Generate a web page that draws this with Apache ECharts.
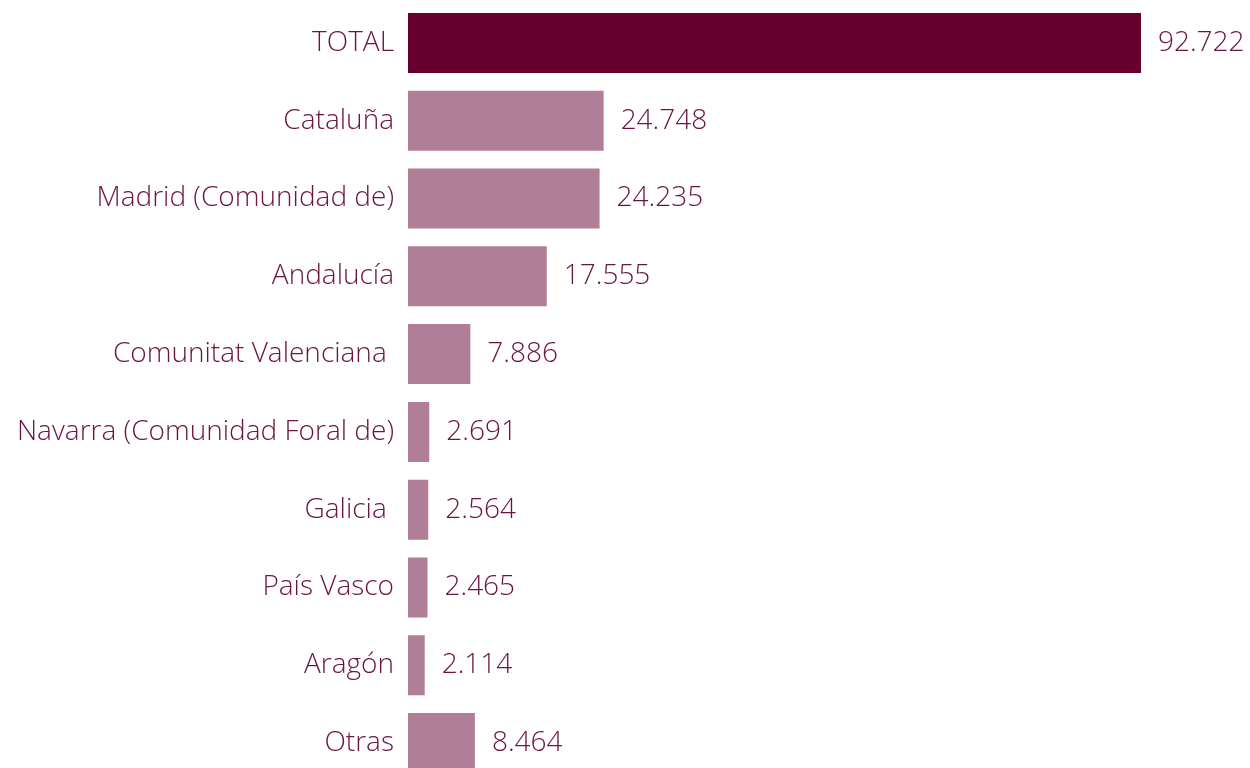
<!DOCTYPE html>
<html>
<head>
<meta charset="utf-8">
<script src="https://cdn.jsdelivr.net/npm/echarts@6/dist/echarts.min.js"></script>
<style>
  html, body { margin: 0; padding: 0; background: #fff; overflow: hidden; }
  #chart { width: 1250px; height: 800px; }
</style>
</head>
<body>
<div id="chart"></div>
<script>
// categorias (las dos con espacio final van algo desplazadas en el original)
var categorias = ["TOTAL", "Cataluña", "Madrid (Comunidad de)", "Andalucía", "Comunitat Valenciana ",
  "Navarra (Comunidad Foral de)", "Galicia ", "País Vasco", "Aragón", "Otras"];
var valores = [92722, 24748, 24235, 17555, 7886, 2691, 2564, 2465, 2114, 8464];

var colorTotal = "#66002f";
var colorResto = "#b07f97";
var colorTexto = "#6b1442";

function formato(v) {
  return String(v).replace(/\B(?=(\d{3})+(?!\d))/g, ".");
}

var myChart = echarts.init(document.getElementById("chart"));
myChart.setOption({
  animation: false,
  grid: { left: 408, top: 4, width: 790.5, height: 778 },
  xAxis: {
    type: "value",
    min: 0,
    max: 100000,
    show: false
  },
  yAxis: {
    type: "category",
    data: categorias,
    inverse: true,
    axisLine: { show: false },
    axisTick: { show: false },
    axisLabel: {
      margin: 14,
      color: colorTexto,
      fontFamily: "Open Sans",
      fontWeight: 300,
      fontSize: 28
    }
  },
  series: [{
    type: "bar",
    barWidth: 60,
    data: valores.map(function (v, i) {
      return { value: v, itemStyle: { color: i === 0 ? colorTotal : colorResto } };
    }),
    label: {
      show: true,
      position: "right",
      distance: 17,
      color: colorTexto,
      fontFamily: "Open Sans",
      fontWeight: 300,
      fontSize: 28,
      formatter: function (p) { return formato(p.value); }
    }
  }]
});
</script>
</body>
</html>
